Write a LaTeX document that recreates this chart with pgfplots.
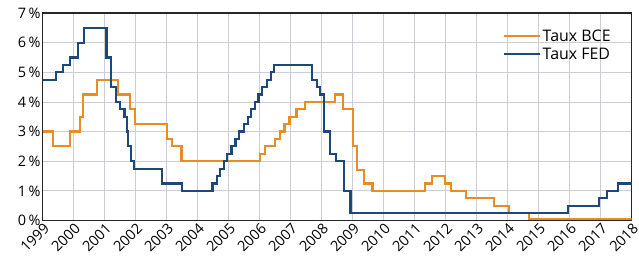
\documentclass[border=0pt]{standalone}
\usepackage{pgfplots}
\pgfplotsset{compat=1.18}
\usepackage{fontspec}
\setmainfont{Open Sans}
\definecolor{bce}{RGB}{234,140,36}
\definecolor{fed}{RGB}{28,72,122}
\definecolor{gridc}{RGB}{205,205,214}
\begin{document}
\begin{tikzpicture}
\begin{axis}[
  scale only axis, width=589bp, height=207.5bp,
  xmin=1999, xmax=2018, ymin=0, ymax=7,
  xtick={1999,2000,2001,2002,2003,2004,2005,2006,2007,2008,2009,2010,2011,2012,2013,2014,2015,2016,2017,2018},
  xticklabels={1999,2000,2001,2002,2003,2004,2005,2006,2007,2008,2009,2010,2011,2012,2013,2014,2015,2016,2017,2018},
  ytick={0,1,2,3,4,5,6,7},
  yticklabels={0\,\%,1\,\%,2\,\%,3\,\%,4\,\%,5\,\%,6\,\%,7\,\%},
  xticklabel style={rotate=45, anchor=north east, inner sep=1pt, font=\fontsize{14.5}{14.5}\selectfont},
  yticklabel style={font=\fontsize{14.5}{14.5}\selectfont, inner sep=2pt},
  grid=major, major grid style={gridc, line width=0.8pt},
  major tick length=0pt,
  axis line style={black!85, line width=1.1pt},
  legend style={draw=none, fill=none, at={(0.968,0.93)}, anchor=north east,
    font=\fontsize{16}{16}\selectfont, row sep=1pt, inner sep=0pt},
  legend cell align=left,
  legend image code/.code={\draw[#1] (0bp,0bp) -- (36bp,0bp);},
]
\addplot[const plot, bce, line width=2.2pt, line join=miter] coordinates {
(1999.00,3.0) (1999.33,2.5) (1999.88,3.0) (2000.20,3.5) (2000.31,4.25)
(2000.74,4.75) (2001.43,4.25) (2001.82,3.75) (2001.98,3.25) (2003.00,2.75)
(2003.16,2.5) (2003.48,2.0) (2006.00,2.25) (2006.18,2.5) (2006.50,2.75)
(2006.66,3.0) (2006.80,3.25) (2006.96,3.5) (2007.19,3.75) (2007.47,4.0)
(2008.43,4.25) (2008.70,3.75) (2009.00,2.5) (2009.15,1.7) (2009.37,1.25)
(2009.64,1.0) (2011.33,1.25) (2011.56,1.5) (2011.98,1.25) (2012.17,1.0)
(2012.65,0.75) (2013.55,0.5) (2014.03,0.25) (2014.68,0.05) (2018.00,0.05)
};
\addlegendentry{Taux BCE}
\addplot[const plot, fed, line width=2.2pt, line join=miter] coordinates {
(1999.00,4.75) (1999.44,5.0) (1999.65,5.25) (1999.87,5.5) (2000.14,6.0)
(2000.33,6.5) (2001.06,5.5) (2001.21,4.5) (2001.37,4.0) (2001.49,3.75)
(2001.64,3.5) (2001.71,3.0) (2001.75,2.5) (2001.85,2.0) (2001.95,1.75)
(2002.86,1.25) (2003.50,1.0) (2004.48,1.25) (2004.61,1.5) (2004.72,1.75)
(2004.86,2.0) (2004.95,2.25) (2005.09,2.5) (2005.22,2.75) (2005.34,3.0)
(2005.50,3.25) (2005.61,3.5) (2005.72,3.75) (2005.84,4.0) (2005.96,4.25)
(2006.08,4.5) (2006.24,4.75) (2006.36,5.0) (2006.47,5.25) (2007.68,4.75)
(2007.84,4.5) (2007.95,4.25) (2008.08,3.0) (2008.27,2.25) (2008.47,2.0)
(2008.72,1.0) (2008.93,0.25) (2015.94,0.5) (2016.94,0.75) (2017.20,1.0)
(2017.55,1.25) (2018.00,1.25)
};
\addlegendentry{Taux FED}
\end{axis}
\pgfresetboundingbox
\path[use as bounding box] (-42.7bp,-47.5bp) rectangle (596.3bp,220.5bp);
\end{tikzpicture}
\end{document}
